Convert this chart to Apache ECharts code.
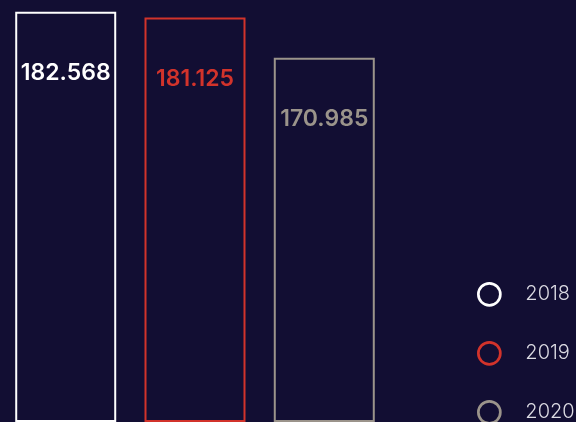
<!DOCTYPE html>
<html>
<head>
<meta charset="utf-8">
<style>
  html, body { margin: 0; padding: 0; background: #120e33; }
  #chart_con { width: 576px; height: 422px; }
</style>
<script src="https://cdn.jsdelivr.net/npm/echarts@6/dist/echarts.min.js"></script>
</head>
<body>
<div id="chart_con"></div>
<script>
// data
const years = ["2018", "2019", "2020"];
const values = [182.568, 181.125, 170.985];
const colors = ["#ffffff", "#d2332b", "#9b948b"];
const legendTops = [282, 341, 400];

const series = years.map(function (y, i) {
  return {
    name: y,
    type: "bar",
    barWidth: 101,
    barGap: "28%",
    itemStyle: {
      color: "transparent",
      borderColor: colors[i],
      borderWidth: 2
    },
    label: {
      show: true,
      position: "insideTop",
      distance: 50,
      color: colors[i],
      fontFamily: "Inter",
      fontSize: 23,
      fontWeight: 600
    },
    data: [values[i]]
  };
});

// one legend per year so the last item is not wrapped into a new column
const legends = years.map(function (y, i) {
  return {
    orient: "vertical",
    left: 477,
    top: legendTops[i],
    padding: 0,
    icon: "circle",
    itemWidth: 22,
    itemHeight: 22,
    textStyle: {
      color: "#dcdbe3",
      fontFamily: "Inter",
      fontSize: 20,
      fontWeight: 300,
      padding: [0, 0, 0, 20]
    },
    data: [{
      name: y,
      itemStyle: { color: "transparent", borderColor: colors[i], borderWidth: 2.7 }
    }]
  };
});

const option = {
  backgroundColor: "#120e33",
  animation: false,
  legend: legends,
  grid: {
    left: 0,
    right: 186,
    top: 0,
    bottom: 1
  },
  xAxis: {
    type: "category",
    data: [""],
    show: false
  },
  yAxis: {
    type: "value",
    min: 79.5,
    max: 185.5,
    show: false
  },
  series: series
};

const chart = echarts.init(document.getElementById("chart_con"));
chart.setOption(option);
window.addEventListener("resize", function () {
  chart.resize();
});
</script>
</body>
</html>
